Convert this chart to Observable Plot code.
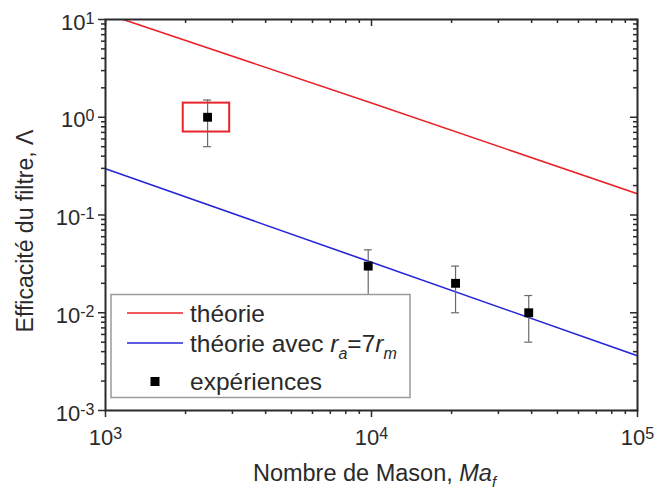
<!DOCTYPE html>
<html>
<head>
<meta charset="utf-8">
<script src="https://cdn.jsdelivr.net/npm/d3@7"></script>
<script src="https://cdn.jsdelivr.net/npm/@observablehq/plot@0.6"></script>
<style>
  html, body { margin: 0; padding: 0; background: #fff; }
  #wrap { position: relative; width: 656px; height: 499px; font-family: "Liberation Sans", Arial, sans-serif; }
  #legend { position: absolute; left: 0; top: 0; pointer-events: none; }
</style>
</head>
<body>
<div id="wrap"></div>
<script>
// ---- data ----
const theoryMa = [1000, 10000, 100000];
const theoryEff = [11.5, 1.4, 0.165];
const theory7Ma = [1000, 10000, 100000];
const theory7Eff = [0.297, 0.0328, 0.00363];
const expMa = [2420, 9720, 20700, 39000];
const expEff = [1.0, 0.030, 0.020, 0.010];
const expLow = [0.5, 0.015, 0.010, 0.005];
const expHigh = [1.5, 0.044, 0.030, 0.015];
const boxMa = [1960, 2930];
const boxEff = [0.706, 1.395];
const xMajor = [1e3, 1e4, 1e5];
const xTickLabels = ["10^3", "10^4", "10^5"];
const xMinor = [2e3,3e3,4e3,5e3,6e3,7e3,8e3,9e3,2e4,3e4,4e4,5e4,6e4,7e4,8e4,9e4];
const yMajor = [1e-3, 1e-2, 1e-1, 1, 10];
const yTickLabels = ["10^-3", "10^-2", "10^-1", "10^0", "10^1"];
const yMinor = [2e-3,3e-3,4e-3,5e-3,6e-3,7e-3,8e-3,9e-3,
                2e-2,3e-2,4e-2,5e-2,6e-2,7e-2,8e-2,9e-2,
                0.2,0.3,0.4,0.5,0.6,0.7,0.8,0.9,
                2,3,4,5,6,7,8,9];
const xTitle = "Nombre de Mason, ";
const xTitleItalic = "Ma";
const xTitleSub = "f";
const yTitle = "Efficacité du filtre, Λ";
const legendLabels = ["théorie", "théorie avec ", "expériences"];

// ---- tables ----
const theory = theoryMa.map((x, i) => ({x, y: theoryEff[i]}));
const theory7 = theory7Ma.map((x, i) => ({x, y: theory7Eff[i]}));
const exp = expMa.map((x, i) => ({x, y: expEff[i], lo: expLow[i], hi: expHigh[i]}));
const box = [{x1: boxMa[0], x2: boxMa[1], y1: boxEff[0], y2: boxEff[1]}];

const W = 656, H = 499, mL = 105, mR = 19, mT = 19, mB = 89;
const FW = W - mL - mR, FH = H - mT - mB;
const RED = "#e8232a", BLUE = "#2626d8", AX = "#2a2a2a";

const plot = Plot.plot({
  width: W, height: H,
  marginLeft: mL, marginRight: mR, marginTop: mT, marginBottom: mB,
  style: {fontFamily: "'Liberation Sans', Arial, sans-serif", fontSize: "22px", color: AX, background: "#fff"},
  x: {type: "log", domain: [1e3, 1e5]},
  y: {type: "log", domain: [1e-3, 10]},
  marks: [
    Plot.line(theory, {x: "x", y: "y", stroke: RED, strokeWidth: 1.6, clip: true}),
    Plot.line(theory7, {x: "x", y: "y", stroke: BLUE, strokeWidth: 1.6, clip: true}),
    Plot.rect(box, {x1: "x1", x2: "x2", y1: "y1", y2: "y2", fill: "none", stroke: RED, strokeWidth: 2}),
    Plot.ruleX(exp, {x: "x", y1: "lo", y2: "hi", stroke: "#6a6a6a", strokeWidth: 1.2}),
    Plot.ruleY(exp, {y: "hi", x1: "x", x2: "x", insetLeft: -4, insetRight: -4, stroke: "#6a6a6a", strokeWidth: 1.2}),
    Plot.ruleY(exp, {y: "lo", x1: "x", x2: "x", insetLeft: -4, insetRight: -4, stroke: "#6a6a6a", strokeWidth: 1.2}),
    Plot.dot(exp, {x: "x", y: "y", symbol: "square", r: 5, fill: "#000", stroke: "none"}),
    Plot.frame({stroke: AX, strokeWidth: 2}),
    // bottom ticks (outward)
    Plot.tickX(xMajor, {x: d => d, insetTop: FH, insetBottom: -7, stroke: AX, strokeWidth: 1.5}),
    Plot.tickX(xMinor, {x: d => d, insetTop: FH, insetBottom: -4, stroke: AX, strokeWidth: 1.5}),
    // top ticks (inward)
    Plot.tickX(xMajor, {x: d => d, insetBottom: FH - 7, stroke: AX, strokeWidth: 1.5}),
    Plot.tickX(xMinor, {x: d => d, insetBottom: FH - 4, stroke: AX, strokeWidth: 1.5}),
    // left ticks (outward)
    Plot.tickY(yMajor, {y: d => d, insetRight: FW, insetLeft: -7, stroke: AX, strokeWidth: 1.5}),
    Plot.tickY(yMinor, {y: d => d, insetRight: FW, insetLeft: -4, stroke: AX, strokeWidth: 1.5}),
    // right ticks (inward)
    Plot.tickY(yMajor, {y: d => d, insetLeft: FW - 7, stroke: AX, strokeWidth: 1.5}),
    Plot.tickY(yMinor, {y: d => d, insetLeft: FW - 4, stroke: AX, strokeWidth: 1.5}),
    Plot.axisX(xMajor, {anchor: "bottom", tickSize: 0, tickPadding: 19, label: null,
      tickFormat: d => xTickLabels[xMajor.indexOf(d)], fill: AX}),
    Plot.axisY(yMajor, {anchor: "left", tickSize: 0, tickPadding: 11, label: null, dy: 3,
      tickFormat: d => yTickLabels[yMajor.indexOf(d)], fill: AX}),
    Plot.text([yTitle], {text: d => d, frameAnchor: "left", rotate: -90, dx: -80, dy: 16, fontSize: 23, fill: AX, textAnchor: "middle"}),
    Plot.text([xTitle], {text: d => d, frameAnchor: "bottom", dx: 3, dy: 70, fontSize: 23.5, fill: AX, textAnchor: "middle"})
  ]
});

const svg = d3.select(plot);
// superscripts on tick labels
svg.selectAll("text").each(function() {
  const t = this.textContent;
  if (!t.includes("^")) return;
  const [base, ex] = t.split("^");
  this.textContent = "";
  const s = d3.select(this);
  s.append("tspan").text(base);
  s.append("tspan").attr("dy", "-6").attr("font-size", "16px").text(ex);
});
// italic/subscript part of x title
svg.selectAll("text").filter(function() { return this.textContent === xTitle; }).each(function() {
  this.setAttribute("xml:space", "preserve");
  this.style.whiteSpace = "pre";
  const s = d3.select(this);
  s.append("tspan").attr("font-style", "italic").text(xTitleItalic);
  s.append("tspan").attr("font-style", "italic").attr("font-size", "15px").attr("dy", "6").text(xTitleSub);
});

const wrap = document.getElementById("wrap");
wrap.appendChild(plot);

// legend overlay
const leg = `
<svg id="legend" width="656" height="499" xmlns="http://www.w3.org/2000/svg" font-family="'Liberation Sans', Arial, sans-serif" font-size="24.5" fill="#2a2a2a">
  <rect x="111" y="294.5" width="299" height="103" fill="#fff" stroke="#9a9a9a" stroke-width="1.5"/>
  <line x1="127" x2="183" y1="313" y2="313" stroke="${RED}" stroke-width="1.6"/>
  <line x1="127" x2="183" y1="343" y2="343" stroke="${BLUE}" stroke-width="1.6"/>
  <rect x="150.5" y="377" width="9" height="9" fill="#000"/>
  <text x="190" y="321.5">${legendLabels[0]}</text>
  <text x="190" y="351.5">${legendLabels[1]}<tspan font-style="italic">r</tspan><tspan font-style="italic" font-size="16" dy="7">a</tspan><tspan dy="-7">=7</tspan><tspan font-style="italic">r</tspan><tspan font-style="italic" font-size="16" dy="7">m</tspan></text>
  <text x="190" y="389.5">${legendLabels[2]}</text>
</svg>`;
wrap.insertAdjacentHTML("beforeend", leg);
</script>
</body>
</html>
